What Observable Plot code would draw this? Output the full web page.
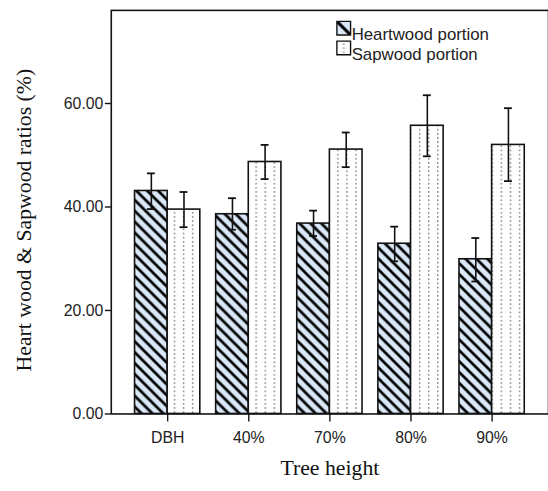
<!DOCTYPE html>
<html>
<head>
<meta charset="utf-8">
<script src="https://cdn.jsdelivr.net/npm/d3@7"></script>
<script src="https://cdn.jsdelivr.net/npm/@observablehq/plot@0.6"></script>
<style>
  html, body { margin: 0; padding: 0; background: #fff; }
  #wrap { width: 548px; height: 491px; overflow: hidden; position: relative; }
</style>
</head>
<body>
<svg width="0" height="0" style="position:absolute">
  <defs>
    <pattern id="hatch" patternUnits="userSpaceOnUse" width="11" height="11">
      <rect width="11" height="11" fill="#dae8f8"></rect>
      <path d="M-2,-2 L13,13 M-2,9 L2,13 M9,-2 L13,2" stroke="#000" stroke-width="2.7"></path>
    </pattern>
    <pattern id="dots" patternUnits="userSpaceOnUse" width="9.18" height="4.2" x="1.2">
      <rect width="9.18" height="4.2" fill="#fff"></rect>
      <rect x="0" y="0" width="1.4" height="1.8" fill="#8a8a8a"></rect>
    </pattern>
    <pattern id="hatchLegend" patternUnits="objectBoundingBox" patternContentUnits="objectBoundingBox" width="1" height="1">
      <rect width="1" height="1" fill="#dae8f8"></rect>
      <path d="M0,0 L1,1" stroke="#000" stroke-width="0.22"></path>
    </pattern>
    <pattern id="dotsLegend" patternUnits="objectBoundingBox" patternContentUnits="objectBoundingBox" width="1" height="1">
      <rect width="1" height="1" fill="#fff"></rect>
      <rect x="0.45" y="0.15" width="0.1" height="0.12" fill="#8a8a8a"></rect>
      <rect x="0.45" y="0.45" width="0.1" height="0.12" fill="#8a8a8a"></rect>
      <rect x="0.45" y="0.75" width="0.1" height="0.12" fill="#8a8a8a"></rect>
    </pattern>
  </defs>
</svg>
<div id="wrap"></div>
<script>
// ---- data ----
const categories = ["DBH", "40%", "70%", "80%", "90%"];
const seriesNames = ["Heartwood portion", "Sapwood portion"];
const heartwood = [43.1, 38.6, 36.8, 32.9, 29.9];
const heartwoodLow = [39.6, 35.6, 34.4, 29.5, 25.6];
const heartwoodHigh = [46.5, 41.7, 39.3, 36.2, 34.0];
const sapwood = [39.5, 48.7, 51.1, 55.7, 52.0];
const sapwoodLow = [36.1, 45.4, 47.7, 49.8, 45.0];
const sapwoodHigh = [42.9, 52.0, 54.4, 61.6, 59.1];
const yTicks = [0, 20, 40, 60];
const yMax = 78;
const xTitle = "Tree height";
const yTitle = "Heart wood & Sapwood ratios (%)";

const rows = categories.map((c, i) => ({
  cat: c,
  h: heartwood[i], hLo: heartwoodLow[i], hHi: heartwoodHigh[i],
  s: sapwood[i], sLo: sapwoodLow[i], sHi: sapwoodHigh[i]
}));

const half = 33;      // half of the band width (px)
const off = 16.5;     // offset of each bar centre from the band centre
const cap = 4;        // half cap width

const serif = "'Liberation Serif', 'Times New Roman', serif";

const chart = Plot.plot({
  width: 554,
  height: 491,
  marginLeft: 112,
  marginRight: 0,
  marginTop: 10,
  marginBottom: 73,
  style: {fontFamily: "'Liberation Sans', Arial, sans-serif", fontSize: "16px", color: "#222", background: "#fff"},
  x: {domain: categories, paddingInner: 0.2, paddingOuter: 0.276, align: 0.5, label: null},
  y: {domain: [0, yMax], label: null},
  marks: [
    Plot.barY(rows, {x: "cat", y: "h", insetRight: half, fill: "url(#hatch)", stroke: "#111", strokeWidth: 1.6}),
    Plot.barY(rows, {x: "cat", y: "s", insetLeft: half, fill: "url(#dots)", stroke: "#111", strokeWidth: 1.6}),
    Plot.ruleX(rows, {x: "cat", y1: "hLo", y2: "hHi", dx: -off, stroke: "#111", strokeWidth: 1.6}),
    Plot.ruleX(rows, {x: "cat", y1: "sLo", y2: "sHi", dx: off, stroke: "#111", strokeWidth: 1.6}),
    Plot.tickY(rows, {x: "cat", y: "hHi", insetLeft: half - off - cap, insetRight: half + off - cap, stroke: "#111", strokeWidth: 1.8}),
    Plot.tickY(rows, {x: "cat", y: "hLo", insetLeft: half - off - cap, insetRight: half + off - cap, stroke: "#111", strokeWidth: 1.8}),
    Plot.tickY(rows, {x: "cat", y: "sHi", insetLeft: half + off - cap, insetRight: half - off - cap, stroke: "#111", strokeWidth: 1.8}),
    Plot.tickY(rows, {x: "cat", y: "sLo", insetLeft: half + off - cap, insetRight: half - off - cap, stroke: "#111", strokeWidth: 1.8}),
    Plot.frame({stroke: "#111", strokeWidth: 1.6}),
    Plot.axisY({ticks: yTicks, tickFormat: d3.format(".2f"), tickSize: 6, tickPadding: 2, label: null, stroke: "#111", strokeWidth: 1.4}),
    Plot.axisX({tickSize: 8, tickPadding: 10, label: null, stroke: "#111", strokeWidth: 1.4}),
    Plot.text([yTitle], {frameAnchor: "left", textAnchor: "middle", dx: -88, dy: 8, rotate: -90, fontFamily: serif, fontSize: 22, fill: "#111"}),
    Plot.text([xTitle], {frameAnchor: "bottom", dy: 62, fontFamily: serif, fontSize: 22, fill: "#111"}),
    // legend
    Plot.dot([seriesNames[0]], {frameAnchor: "top-left", dx: 235, dy: 18, symbol: "square", r: 7.8, fill: "url(#hatchLegend)", stroke: "#111", strokeWidth: 1.4}),
    Plot.dot([seriesNames[1]], {frameAnchor: "top-left", dx: 235, dy: 38, symbol: "square", r: 7.8, fill: "url(#dotsLegend)", stroke: "#111", strokeWidth: 1.4}),
    Plot.text([seriesNames[0]], {frameAnchor: "top-left", dx: 243, dy: 18, textAnchor: "start", fontSize: 17, fill: "#222"}),
    Plot.text([seriesNames[1]], {frameAnchor: "top-left", dx: 243, dy: 38, textAnchor: "start", fontSize: 17, fill: "#222"})
  ]
});
document.getElementById("wrap").appendChild(chart);
</script>
</body>
</html>
